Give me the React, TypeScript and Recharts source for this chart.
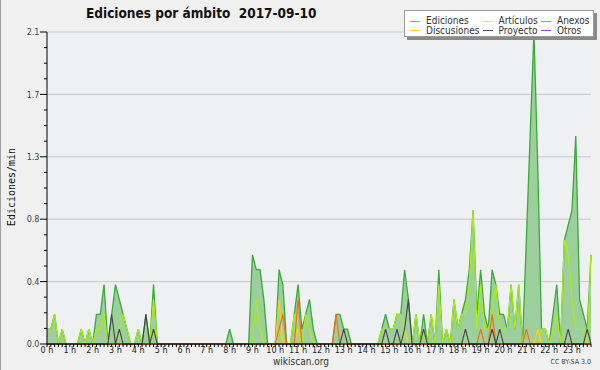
import React from 'react';
import { ComposedChart, Area, Line, XAxis, YAxis, CartesianGrid } from 'recharts';

const hourLabels = ['0 h','1 h','2 h','3 h','4 h','5 h','6 h','7 h','8 h','9 h','10 h','11 h','12 h','13 h','14 h','15 h','16 h','17 h','18 h','19 h','20 h','21 h','22 h','23 h'];

const yMajorValues = [0, 0.42, 0.84, 1.26, 1.68, 2.1];
const yMajorLabels = ['0.0', '0.4', '0.8', '1.3', '1.7', '2.1'];

const ediciones = [
  0.1,0.1,0.2,0,0.1,0,0,0,0,0.1,0,0.1,
  0,0.2,0.2,0.4,0,0.2,0.4,0.3,0.2,0.1,0,0,
  0.1,0,0.2,0,0.4,0,0,0,0,0,0,0,
  0,0,0,0,0,0,0,0,0,0,0,0,
  0.1,0,0,0,0,0,0.6,0.5,0.5,0.3,0,0,
  0,0.5,0.4,0,0,0.2,0.4,0.1,0.2,0.3,0.1,0,
  0,0,0,0,0.2,0.2,0.1,0.1,0,0,0,0,
  0,0,0,0,0.1,0.2,0.1,0.1,0.2,0.2,0.5,0.3,
  0,0.2,0,0.2,0,0.2,0,0.5,0,0.1,0,0.3,
  0.1,0.2,0.3,0.5,0.9,0.2,0.5,0.2,0.1,0.5,0.4,0.2,
  0.2,0.1,0.4,0.1,0.4,0,0.7,1.4,2.1,1.2,0.1,0.1,
  0,0.2,0.4,0,0.7,0.8,0.9,1.4,0.3,0.2,0.1,0.6,
];

const articulos = [
  0.1,0.1,0.2,0,0.1,0,0,0,0,0.1,0,0.1,
  0,0.1,0.1,0.2,0,0,0,0.1,0.2,0.1,0,0,
  0.1,0,0,0,0.3,0,0,0,0,0,0,0,
  0,0,0,0,0,0,0,0,0,0,0,0,
  0,0,0,0,0,0,0,0.3,0.1,0,0,0,
  0,0.1,0,0,0,0.2,0,0,0.2,0.1,0,0,
  0,0,0,0,0,0,0,0,0,0,0,0,
  0,0,0,0,0.1,0.1,0.1,0.1,0.2,0.2,0.1,0,
  0,0.2,0,0.1,0,0.2,0,0.4,0,0.1,0,0.3,
  0.1,0.2,0.2,0.4,0.9,0.1,0.4,0.1,0.1,0.2,0.4,0.1,
  0.1,0.1,0.4,0.1,0.4,0,0,0,0,0,0.1,0.1,
  0,0.1,0.2,0,0.7,0.6,0.3,0.1,0.1,0.1,0,0.6,
];

const anexos = [
  0,0,0,0,0,0,0,0,0,0,0,0,
  0,0,0,0,0,0,0,0,0,0,0,0,
  0,0,0,0,0,0,0,0,0,0,0,0,
  0,0,0,0,0,0,0,0,0,0,0,0,
  0,0,0,0,0,0,0,0,0,0,0,0,
  0,0.1,0.2,0,0,0,0.3,0,0,0,0,0,
  0,0,0,0,0.2,0,0,0,0,0,0,0,
  0,0,0,0,0,0,0,0,0,0,0,0,
  0,0,0,0,0,0,0,0,0,0,0,0,
  0,0,0,0,0,0,0.1,0,0,0.2,0,0,
  0,0,0,0,0,0,0.1,0,0,0,0,0,
  0,0,0,0,0,0,0,0,0,0,0,0,
];

const discusiones = [
  0,0,0,0,0,0,0,0,0,0,0,0,
  0,0,0,0,0,0,0,0,0,0,0,0,
  0,0,0,0,0,0,0,0,0,0,0,0,
  0,0,0,0,0,0,0,0,0,0,0,0,
  0,0,0,0,0,0,0,0,0,0,0,0,
  0,0.3,0,0,0,0,0.1,0,0,0,0,0,
  0,0,0,0,0,0,0,0,0,0,0,0,
  0,0,0,0,0,0,0,0,0,0,0.1,0,
  0,0,0,0,0,0,0,0,0,0,0,0,
  0,0,0,0,0,0,0,0,0,0,0,0,
  0,0,0,0,0,0,0,0,0,0.1,0,0,
  0,0,0,0,0,0,0,0,0,0,0,0,
];

const proyecto = [
  0,0,0,0,0,0,0,0,0,0,0,0,
  0,0,0,0,0,0.2,0,0.1,0,0,0,0,
  0,0,0.2,0,0.1,0,0,0,0,0,0,0,
  0,0,0,0,0,0,0,0,0,0,0,0,
  0,0,0,0,0,0,0,0,0,0,0,0,
  0,0,0,0,0,0,0,0,0,0,0,0,
  0,0,0,0,0,0,0.1,0,0,0,0,0,
  0,0,0,0,0,0.1,0,0,0.1,0,0.1,0.3,
  0,0,0,0.1,0,0,0,0,0,0,0,0,
  0,0,0.1,0,0,0,0,0,0,0.1,0,0.1,
  0,0,0,0,0,0,0,0,0,0,0,0,
  0,0,0,0,0,0.1,0,0,0,0,0.1,0,
];

const otros = [
  0,0,0,0,0,0,0,0,0,0,0,0,
  0,0,0,0,0,0,0,0,0,0,0,0,
  0,0,0,0,0,0,0,0,0,0,0,0,
  0,0,0,0,0,0,0,0,0,0,0,0,
  0,0,0,0,0,0,0,0,0,0,0,0,
  0,0,0,0,0,0,0,0,0,0,0,0,
  0,0,0,0,0,0,0,0,0,0,0,0,
  0,0,0,0,0,0,0,0,0,0,0,0,
  0,0,0,0,0,0,0,0,0,0,0,0,
  0,0,0,0,0,0,0,0,0,0,0,0,
  0,0,0,0,0,0,0,0,0,0,0,0,
  0,0,0,0,0,0,0,0,0,0,0,0,
];

const data = ediciones.map((v, i) => ({
  slot: i,
  ediciones: v,
  articulos: articulos[i],
  anexos: anexos[i],
  discusiones: discusiones[i],
  proyecto: proyecto[i],
  otros: otros[i],
}));

const slotTicks = data.map((d) => d.slot);
const yStep = 2.1 / 20;
const yAllTicks = Array.from({ length: 21 }, (_, k) => +(k * yStep).toFixed(4));

const COND = '"DejaVu Sans Condensed", "DejaVu Sans", sans-serif';

const XTick = (props: any) => {
  const { x, y, payload } = props;
  const i = payload.value;
  if (i % 6 !== 0) return <g />;
  return (
    <text x={x} y={y} dy="0.71em" textAnchor="middle" fontSize={9} fill="#222" fontFamily={COND}>
      {hourLabels[i / 6]}
    </text>
  );
};

const YTick = (props: any) => {
  const { x, y, payload } = props;
  const k = Math.round(payload.value / yStep);
  const major = k % 4 === 0;
  const len = major ? 7 : 3;
  return (
    <g>
      <line x1={x - len} x2={x} y1={y} y2={y} stroke="#000" strokeWidth={1} />
      {major && (
        <text x={x - 7.5} y={y} dy="0.35em" textAnchor="end" fontSize={9} fill="#444" fontFamily={COND}>
          {yMajorLabels[k / 4]}
        </text>
      )}
    </g>
  );
};

const legendItems = [
  { name: 'Ediciones', color: '#66cc66', left: 5, top: 10, textLeft: 21 },
  { name: 'Discusiones', color: '#ffcc33', left: 5, top: 19.5, textLeft: 21 },
  { name: 'Artículos', color: '#ccff33', left: 78, top: 10, textLeft: 93.5 },
  { name: 'Proyecto', color: '#555555', left: 78, top: 19.5, textLeft: 93.5 },
  { name: 'Anexos', color: '#ff7733', left: 136, top: 10, textLeft: 152 },
  { name: 'Otros', color: '#9944ff', left: 136, top: 19.5, textLeft: 152 },
];

export default function App() {
  return (
    <div style={{ position: 'absolute', left: 0, top: 0, width: 600, height: 370, background: '#f0f0f0', overflow: 'hidden', borderLeft: '1px solid #a0a0a0', boxSizing: 'border-box' }}>
      <div style={{ position: 'absolute', left: 0, top: 0 }}>
        <ComposedChart width={600} height={370} data={data} margin={{ top: 32, right: 10, bottom: 0, left: 5 }}>
          <CartesianGrid
            fill="#eff0f2"
            vertical={false}
            horizontal={true}
            horizontalValues={yMajorValues.slice(1)}
            stroke="#c9c9c9"
            strokeWidth={1}
          />
          <XAxis
            dataKey="slot"
            type="number"
            domain={[0, 143]}
            ticks={slotTicks}
            interval={0}
            tickSize={3}
            tickMargin={0}
            height={26}
            axisLine={{ stroke: '#000' }}
            tickLine={{ stroke: '#000' }}
            tick={<XTick />}
          />
          <YAxis
            type="number"
            domain={[0, 2.1]}
            ticks={yAllTicks}
            interval={0}
            width={41}
            tickSize={0}
            tickMargin={0}
            tickLine={false}
            axisLine={{ stroke: '#000' }}
            tick={<YTick />}
          />
          <Area type="linear" dataKey="ediciones" stroke="#3aaa3a" strokeWidth={1.3} fill="#9ccf9c" fillOpacity={1} isAnimationActive={false} dot={false} activeDot={false} />
          <Line type="linear" dataKey="otros" stroke="#9944ff" strokeWidth={1} dot={false} isAnimationActive={false} activeDot={false} />
          <Line type="linear" dataKey="articulos" stroke="#aaee11" strokeWidth={1.2} dot={false} isAnimationActive={false} activeDot={false} />
          <Line type="linear" dataKey="discusiones" stroke="#ffcc22" strokeWidth={1.2} dot={false} isAnimationActive={false} activeDot={false} />
          <Line type="linear" dataKey="anexos" stroke="#ff6a1a" strokeWidth={1.2} dot={false} isAnimationActive={false} activeDot={false} />
          <Line type="linear" dataKey="proyecto" stroke="#444444" strokeWidth={1.1} dot={false} isAnimationActive={false} activeDot={false} />
        </ComposedChart>
      </div>

      <div style={{ position: 'absolute', left: 85, top: 5, fontFamily: COND, fontWeight: 'bold', fontSize: 13.5, color: '#111', whiteSpace: 'pre' }}>
        {'Ediciones por ámbito  2017-09-10'}
      </div>

      <div style={{ position: 'absolute', left: 10, top: 187, transform: 'translate(-50%, -50%) rotate(-90deg)', fontFamily: '"DejaVu Sans Mono", monospace', fontSize: 10, color: '#111', whiteSpace: 'nowrap' }}>
        Ediciones/min
      </div>

      <div style={{ position: 'absolute', left: 403, top: 10, width: 190, height: 27, background: '#fff', border: '1px solid #9a9a9a', boxShadow: '3px 3px 0 #8a8a8a', boxSizing: 'border-box' }}>
        {legendItems.map((it) => (
          <React.Fragment key={it.name}>
            <div style={{ position: 'absolute', left: it.left, top: it.top - 0.5, width: 10, height: 1, background: it.color }} />
            <div style={{ position: 'absolute', left: it.textLeft, top: it.top - 6, fontFamily: COND, fontSize: 10, lineHeight: '12px', color: '#333', whiteSpace: 'nowrap' }}>
              {it.name}
            </div>
          </React.Fragment>
        ))}
      </div>

      <div style={{ position: 'absolute', left: 0, width: 600, top: 356, textAlign: 'center', fontFamily: COND, fontSize: 10, color: '#333' }}>
        wikiscan.org
      </div>
      <div style={{ position: 'absolute', right: 9, top: 358, fontFamily: COND, fontSize: 7, color: '#444' }}>
        CC BY-SA 3.0
      </div>
    </div>
  );
}
